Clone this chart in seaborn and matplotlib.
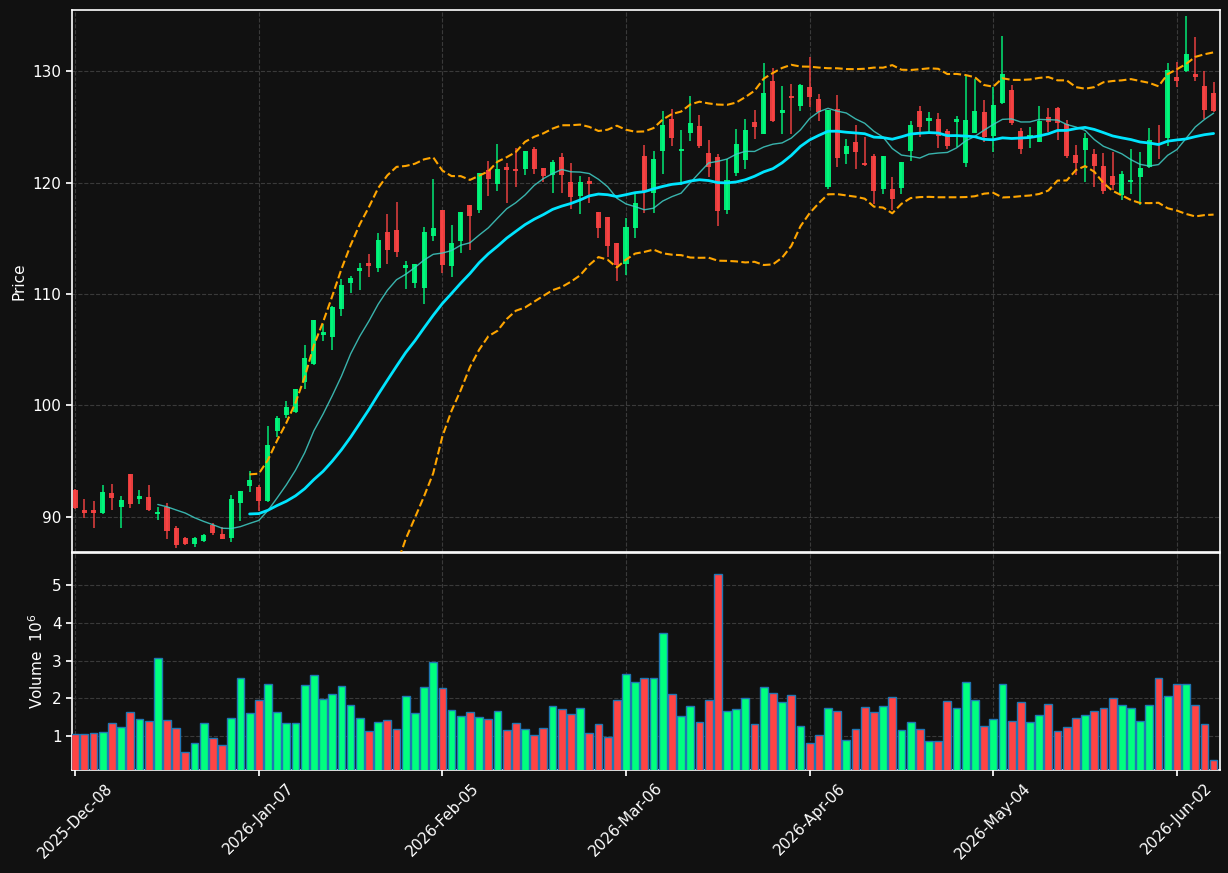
import numpy as np
import pandas as pd
import seaborn as sns
import matplotlib.pyplot as plt

# trading days (US market holidays removed)
holidays = ['2025-12-25', '2026-01-01', '2026-01-19', '2026-02-16', '2026-04-03', '2026-05-25']
dates = pd.bdate_range('2025-12-08', '2026-06-08')
dates = dates[~dates.isin(pd.to_datetime(holidays))]

opens = [92.42, 90.62, 90.62, 90.38, 92.15, 90.92, 93.85, 91.64, 91.79, 90.29,
         90.86, 89.01, 88.11, 87.60, 87.87, 89.28, 88.47, 88.14, 91.28, 92.81,
         92.69, 91.46, 97.71, 99.15, 99.44, 102.13, 103.75, 106.35, 106.17, 108.68,
         111.01, 112.09, 112.78, 112.36, 115.56, 115.74, 112.36, 111.01, 110.57, 115.23,
         117.53, 112.54, 114.78, 117.95, 117.53, 121.09, 119.89, 121.39, 121.21, 121.24,
         123.00, 121.30, 120.70, 122.28, 120.04, 118.79, 120.13, 117.35, 116.90, 114.54,
         112.72, 115.95, 122.37, 119.08, 122.85, 125.69, 122.85, 124.47, 125.06, 122.64,
         122.28, 117.56, 120.88, 122.04, 125.45, 124.38, 129.10, 126.26, 127.75, 126.89,
         128.56, 127.48, 119.62, 126.59, 122.58, 123.63, 121.75, 122.37, 119.44, 119.41,
         119.53, 122.82, 126.41, 125.51, 125.69, 124.61, 125.45, 121.77, 124.47, 126.32,
         124.17, 127.16, 128.29, 124.62, 123.96, 123.63, 125.84, 126.68, 125.24, 122.46,
         122.88, 122.58, 121.51, 120.61, 118.88, 120.04, 120.52, 121.36, 123.72, 124.02,
         129.46, 130.00, 129.73, 128.65, 127.99]
highs = [92.50, 91.58, 91.43, 92.84, 92.96, 91.91, 93.85, 92.39, 92.84, 90.92,
         91.22, 89.19, 88.23, 88.23, 88.47, 89.43, 89.07, 91.97, 92.33, 94.09,
         92.87, 98.16, 99.06, 100.40, 101.50, 105.42, 107.70, 107.31, 108.90, 111.31,
         111.61, 112.75, 113.56, 115.44, 117.17, 118.22, 112.96, 112.70, 115.98, 120.28,
         117.53, 116.15, 117.40, 117.95, 120.85, 121.90, 123.45, 121.78, 123.06, 122.85,
         123.21, 121.30, 122.02, 122.67, 121.72, 120.58, 120.46, 117.40, 116.95, 114.60,
         116.78, 119.08, 123.33, 122.79, 126.44, 126.56, 124.70, 127.75, 126.05, 123.81,
         122.58, 122.07, 124.76, 125.66, 126.47, 130.74, 130.24, 128.62, 128.80, 128.80,
         131.22, 127.90, 126.50, 127.81, 123.87, 125.12, 124.11, 122.52, 122.40, 120.49,
         121.85, 125.51, 126.89, 126.29, 126.20, 124.82, 125.96, 129.64, 129.28, 127.42,
         128.59, 133.17, 128.74, 124.86, 125.00, 126.89, 126.71, 126.80, 125.60, 123.36,
         124.41, 122.97, 122.61, 122.70, 121.06, 122.97, 122.73, 124.86, 125.16, 130.69,
         130.78, 134.93, 133.02, 130.03, 129.01]
lows = [90.70, 89.94, 89.04, 90.24, 90.59, 89.04, 90.77, 91.13, 90.50, 89.76,
        88.05, 87.18, 87.48, 87.33, 87.72, 88.38, 88.00, 87.72, 89.64, 92.27,
        90.50, 91.30, 97.20, 98.85, 99.30, 101.45, 103.60, 105.75, 104.94, 108.05,
        110.06, 110.33, 111.55, 112.00, 112.66, 113.29, 110.42, 110.50, 109.07, 114.75,
        111.85, 111.55, 113.70, 113.94, 117.29, 118.82, 119.26, 118.13, 119.62, 120.67,
        120.73, 120.07, 119.02, 119.08, 117.59, 117.14, 118.13, 114.99, 113.34, 111.13,
        111.67, 114.99, 117.29, 117.23, 120.73, 123.30, 119.77, 123.72, 123.12, 120.52,
        116.09, 117.14, 120.58, 121.18, 123.87, 124.32, 125.40, 124.32, 124.32, 126.44,
        126.80, 125.54, 119.38, 121.42, 121.63, 121.18, 121.50, 118.04, 119.00, 117.53,
        119.00, 121.92, 124.11, 124.56, 123.12, 122.97, 123.21, 121.36, 124.40, 123.66,
        122.76, 127.00, 125.20, 122.52, 123.12, 123.60, 124.50, 123.81, 122.22, 120.67,
        120.01, 119.59, 119.00, 119.30, 118.40, 119.00, 118.00, 121.30, 122.08, 123.27,
        128.59, 129.90, 129.10, 125.66, 126.30]
closes = [90.83, 90.38, 90.38, 92.24, 91.73, 91.52, 91.19, 91.88, 90.62, 90.44,
          88.77, 87.51, 87.60, 88.11, 88.38, 88.59, 88.02, 91.61, 92.33, 93.31,
          91.46, 96.45, 98.88, 99.83, 101.48, 104.26, 107.67, 106.59, 108.83, 110.80,
          111.46, 112.33, 112.54, 114.84, 113.94, 113.79, 112.57, 112.66, 115.56, 115.92,
          112.60, 114.54, 117.35, 117.02, 120.82, 120.31, 121.21, 121.12, 121.03, 122.82,
          121.21, 120.61, 121.87, 120.70, 118.73, 120.07, 119.89, 115.95, 114.33, 112.60,
          116.03, 118.16, 119.11, 122.10, 125.15, 124.02, 123.00, 125.33, 123.30, 121.36,
          117.47, 120.22, 123.45, 124.70, 125.00, 128.02, 125.54, 126.47, 127.60, 128.74,
          127.69, 126.29, 126.50, 122.22, 123.27, 122.76, 121.60, 119.26, 122.37, 118.52,
          121.83, 125.15, 124.97, 125.78, 124.20, 123.30, 125.66, 125.60, 126.41, 124.05,
          126.95, 129.73, 125.36, 123.03, 124.26, 125.51, 125.45, 125.30, 122.40, 121.78,
          123.99, 121.51, 119.26, 119.80, 120.76, 120.22, 121.27, 123.81, 123.70, 130.09,
          129.13, 131.52, 129.49, 126.53, 126.44]
volumes = [1.05, 1.05, 1.08, 1.10, 1.34, 1.24, 1.64, 1.45, 1.39, 3.08,
           1.43, 1.22, 0.58, 0.82, 1.34, 0.96, 0.76, 1.47, 2.53, 1.61,
           1.96, 2.37, 1.63, 1.34, 1.34, 2.34, 2.61, 1.97, 2.11, 2.32,
           1.82, 1.47, 1.13, 1.37, 1.42, 1.18, 2.05, 1.61, 2.29, 2.95,
           2.26, 1.68, 1.53, 1.63, 1.50, 1.45, 1.66, 1.16, 1.34, 1.18,
           1.03, 1.21, 1.79, 1.71, 1.58, 1.74, 1.08, 1.32, 0.97, 1.95,
           2.63, 2.42, 2.53, 2.55, 3.74, 2.11, 1.53, 1.79, 1.37, 1.95,
           5.29, 1.66, 1.71, 2.00, 1.32, 2.29, 2.13, 1.89, 2.08, 1.26,
           0.82, 1.03, 1.74, 1.66, 0.89, 1.18, 1.76, 1.63, 1.79, 2.03,
           1.16, 1.37, 1.18, 0.87, 0.87, 1.92, 1.74, 2.42, 1.95, 1.26,
           1.45, 2.39, 1.39, 1.89, 1.37, 1.55, 1.84, 1.13, 1.24, 1.47,
           1.55, 1.66, 1.74, 2.00, 1.82, 1.74, 1.39, 1.82, 2.55, 2.05,
           2.39, 2.39, 1.82, 1.32, 0.37]

df = pd.DataFrame({'Open': opens, 'High': highs, 'Low': lows, 'Close': closes,
                   'Volume': volumes}, index=dates)
df['x'] = np.arange(len(df))
df['ma10'] = df['Close'].rolling(10).mean()
df['ma20'] = df['Close'].rolling(20).mean()
std20 = df['Close'].rolling(20).std()
df['bb_up'] = df['ma20'] + 2 * std20
df['bb_lo'] = df['ma20'] - 2 * std20

bg = '#111111'
up_col = '#00ff7f'
down_col = '#ff4444'

sns.set_theme(style='dark', rc={
    'figure.facecolor': bg, 'axes.facecolor': bg, 'axes.edgecolor': 'white',
    'axes.labelcolor': 'white', 'xtick.color': 'white', 'ytick.color': 'white',
    'text.color': 'white', 'grid.color': '#3a3a3a', 'grid.linestyle': '--',
    'xtick.bottom': True, 'ytick.left': True,
})
plt.rcParams['font.family'] = ['DejaVu Sans']

fig = plt.figure(figsize=(12.28, 8.73), dpi=100)
ax = fig.add_axes([0.0586, 0.3677, 0.9349, 0.6208])
axv = fig.add_axes([0.0586, 0.118, 0.9349, 0.2486], sharex=ax)

rising = df['Close'] >= df['Open']
colors = np.where(rising, up_col, down_col)

# candles
ax.vlines(df['x'], df['Low'], df['High'], colors=colors, lw=1.1, alpha=0.9, zorder=3)
ax.bar(df['x'], df['Close'] - df['Open'], bottom=df['Open'], width=0.55,
       color=colors, alpha=0.9, linewidth=0, zorder=4)

# moving averages and bands
sns.lineplot(x=df['x'], y=df['ma10'], ax=ax, color='#40d0c8', lw=1.0, alpha=0.85, zorder=5)
sns.lineplot(x=df['x'], y=df['ma20'], ax=ax, color='#00e5ff', lw=2.0, zorder=5)
sns.lineplot(x=df['x'], y=df['bb_up'], ax=ax, color='orange', lw=1.5, zorder=5)
sns.lineplot(x=df['x'], y=df['bb_lo'], ax=ax, color='orange', lw=1.5, zorder=5)
for ln in ax.lines[-2:]:
    ln.set_linestyle('--')

ax.set_ylim(86.86, 135.47)
ax.set_xlim(-0.35, 124.7)
ax.set_ylabel('Price', fontsize=11)
ax.set_xlabel('')
ax.grid(True, lw=0.8)
ax.tick_params(axis='x', labelbottom=False, length=0)
ax.tick_params(axis='y', labelsize=11, length=4)

# volume
axv.bar(df['x'], df['Volume'], width=0.85, color=colors, edgecolor='#1f77b4',
        linewidth=1.0, zorder=3)
axv.set_ylim(0.1, 5.85)
axv.set_ylabel('Volume  $10^{6}$', fontsize=11)
axv.grid(True, lw=0.8)
tick_pos = list(range(0, len(df), 20))
axv.set_xticks(tick_pos)
axv.set_xticklabels([dates[i].strftime('%Y-%b-%d') for i in tick_pos], rotation=45)
axv.tick_params(axis='both', labelsize=11, length=4)
axv.set_yticks([1, 2, 3, 4, 5])

for a in (ax, axv):
    for s in a.spines.values():
        s.set_color('white')
        s.set_linewidth(1.2)

fig.savefig('out.png', dpi=100, facecolor=bg)
